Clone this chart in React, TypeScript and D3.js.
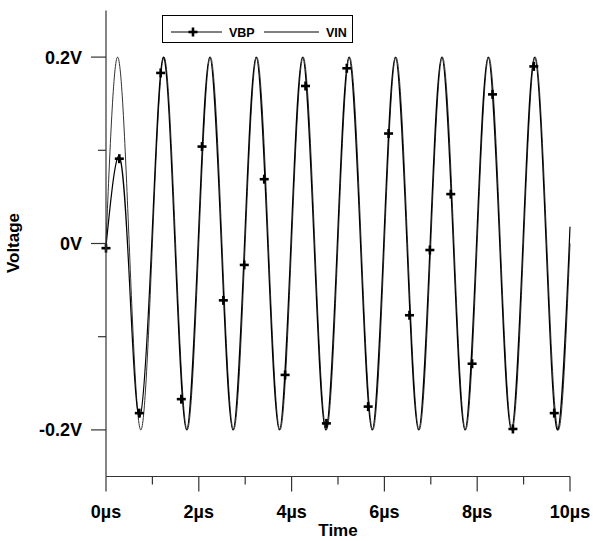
import React from "react";
import * as d3 from "d3";

// VIN: read at each quarter period (zero, peak, zero, trough ...)
const vinPoints: [number, number][] = [
  [0, 0], [0.25, 0.2], [0.5, 0], [0.75, -0.2],
  [1, 0], [1.25, 0.2], [1.5, 0], [1.75, -0.2],
  [2, 0], [2.25, 0.2], [2.5, 0], [2.75, -0.2],
  [3, 0], [3.25, 0.2], [3.5, 0], [3.75, -0.2],
  [4, 0], [4.25, 0.2], [4.5, 0], [4.75, -0.2],
  [5, 0], [5.25, 0.2], [5.5, 0], [5.75, -0.2],
  [6, 0], [6.25, 0.2], [6.5, 0], [6.75, -0.2],
  [7, 0], [7.25, 0.2], [7.5, 0], [7.75, -0.2],
  [8, 0], [8.25, 0.2], [8.5, 0], [8.75, -0.2],
  [9, 0], [9.25, 0.2], [9.5, 0], [9.75, -0.2],
  [10, 0],
];

// VBP: small first bump, then follows VIN slightly ahead
const vbpPoints: [number, number][] = [
  [0, -0.003], [0.29, 0.093], [0.51, -0.045], [0.73, -0.186],
  [0.985, 0], [1.235, 0.2], [1.485, 0], [1.735, -0.2],
  [1.985, 0], [2.235, 0.2], [2.485, 0], [2.735, -0.2],
  [2.985, 0], [3.235, 0.2], [3.485, 0], [3.735, -0.2],
  [3.985, 0], [4.235, 0.2], [4.485, 0], [4.735, -0.2],
  [4.985, 0], [5.235, 0.2], [5.485, 0], [5.735, -0.2],
  [5.985, 0], [6.235, 0.2], [6.485, 0], [6.735, -0.2],
  [6.985, 0], [7.235, 0.2], [7.485, 0], [7.735, -0.2],
  [7.985, 0], [8.235, 0.2], [8.485, 0], [8.735, -0.2],
  [8.985, 0], [9.235, 0.2], [9.485, 0], [9.735, -0.2],
  [10, 0.018],
];

// "+" markers on VBP
const markerTime = [0, 0.287, 0.718, 1.178, 1.623, 2.069, 2.529, 2.98, 3.41, 3.86, 4.3, 4.75,
  5.19, 5.65, 6.09, 6.54, 6.98, 7.43, 7.89, 8.33, 8.77, 9.22, 9.66];
const markerValue = [-0.005, 0.091, -0.182, 0.183, -0.167, 0.104, -0.061, -0.023, 0.069, -0.141, 0.169, -0.193,
  0.188, -0.175, 0.118, -0.077, -0.007, 0.053, -0.129, 0.16, -0.199, 0.19, -0.182];

const xMajor = [0, 2, 4, 6, 8, 10];
const xMinor = [1, 3, 5, 7, 9];
const xLabels = ["0µs", "2µs", "4µs", "6µs", "8µs", "10µs"];
const yMajor = [-0.2, 0, 0.2];
const yMinor = [-0.1, 0.1];
const yLabels = ["-0.2V", "0V", "0.2V"];

const font = "'Liberation Sans', Arial, sans-serif";

export default function App() {
  const x = d3.scaleLinear().domain([0, 10]).range([106, 570]);
  const y = d3.scaleLinear().domain([-0.25, 0.25]).range([476.5, 10.5]);

  const line = d3.line<[number, number]>()
    .x(d => x(d[0]))
    .y(d => y(d[1]))
    .curve(d3.curveNatural);

  const plus = (cx: number, cy: number, k: string | number) => (
    <g key={k} stroke="#000" strokeWidth={2.6}>
      <line x1={cx - 4.5} x2={cx + 4.5} y1={cy} y2={cy} />
      <line x1={cx} x2={cx} y1={cy - 4.5} y2={cy + 4.5} />
    </g>
  );

  return (
    <svg width={608} height={541} style={{ position: "absolute", left: 0, top: 0, background: "#fff" }}>
      {/* curves */}
      <path d={line(vinPoints) || ""} fill="none" stroke="#333" strokeWidth={1} />
      <path d={line(vbpPoints) || ""} fill="none" stroke="#000" strokeWidth={1.2} />
      {markerTime.map((t, i) => plus(x(t), y(markerValue[i]), i))}

      {/* axes */}
      <g stroke="#333" strokeWidth={1.2}>
        <line x1={x(0)} x2={x(0)} y1={y(0.25)} y2={y(-0.25)} />
        <line x1={x(0)} x2={x(10)} y1={y(-0.25)} y2={y(-0.25)} />
        {yMajor.map(v => <line key={"ym" + v} x1={x(0) - 15} x2={x(0)} y1={y(v)} y2={y(v)} />)}
        {yMinor.map(v => <line key={"yn" + v} x1={x(0) - 8} x2={x(0)} y1={y(v)} y2={y(v)} />)}
        {xMajor.map(v => <line key={"xm" + v} x1={x(v)} x2={x(v)} y1={y(-0.25)} y2={y(-0.25) + 15} />)}
        {xMinor.map(v => <line key={"xn" + v} x1={x(v)} x2={x(v)} y1={y(-0.25)} y2={y(-0.25) + 8} />)}
      </g>
      <g fontFamily={font} fontWeight="bold" fontSize={18} fill="#000">
        {yMajor.map((v, i) => (
          <text key={"yl" + v} x={x(0) - 24} y={y(v)} dy="0.36em" textAnchor="end">{yLabels[i]}</text>
        ))}
        {xMajor.map((v, i) => (
          <text key={"xl" + v} x={x(v)} y={518} textAnchor="middle">{xLabels[i]}</text>
        ))}
        <text x={338} y={536} textAnchor="middle" fontSize={17}>Time</text>
        <text transform={`translate(19,243) rotate(-90)`} textAnchor="middle" fontSize={17}>Voltage</text>
      </g>

      {/* legend */}
      <rect x={162.5} y={15.5} width={190} height={27} fill="#fff" stroke="#000" strokeWidth={1} />
      <line x1={171} x2={222} y1={32} y2={32} stroke="#000" strokeWidth={1} />
      {plus(193, 32, "leg")}
      <line x1={264} x2={319} y1={32} y2={32} stroke="#000" strokeWidth={1} />
      <g fontFamily={font} fontWeight="bold" fontSize={12.5} fill="#000">
        <text x={229} y={36.5}>VBP</text>
        <text x={326} y={36.5}>VIN</text>
      </g>
    </svg>
  );
}
